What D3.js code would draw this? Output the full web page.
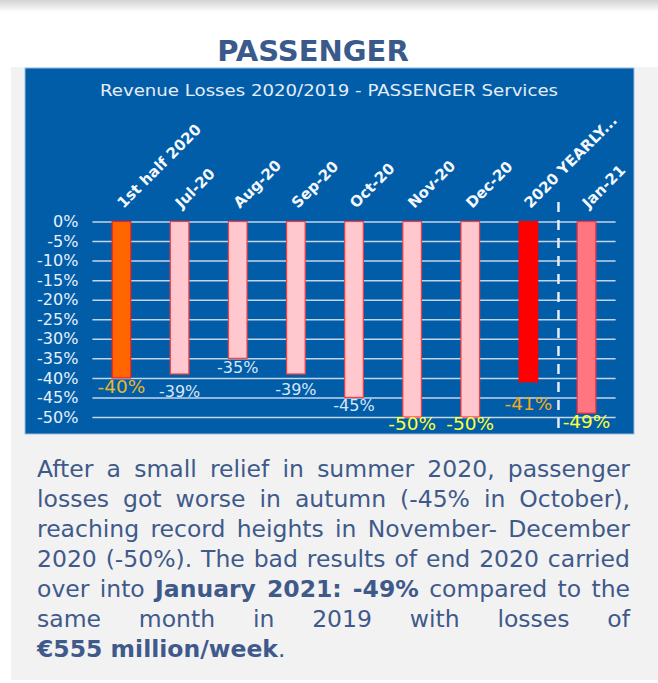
<!DOCTYPE html>
<html>
<head>
<meta charset="utf-8">
<script src="https://cdn.jsdelivr.net/npm/d3@7"></script>
<style>
  body { margin: 0; width: 658px; height: 683px; overflow: hidden; position: relative; background: #fff; font-family: "DejaVu Sans", Verdana, sans-serif; }
  #shadow { position: absolute; left: 0; top: 0; width: 658px; height: 12px; background: linear-gradient(#d2d2d2, rgba(255,255,255,0)); }
  #chart { position: absolute; left: 0; top: 0; }
  #note { position: absolute; left: 37px; top: 454px; width: 593px; font-size: 23.5px; line-height: 30px; color: #3f5a8a; }
  #note div { text-align: justify; text-align-last: justify; }
  #note div.last { text-align-last: left; }
  #note b { font-weight: bold; }
</style>
</head>
<body>
<div id="shadow"></div>
<svg id="chart" width="658" height="683"></svg>
<div id="note">
  <div>After a small relief in summer 2020, passenger</div>
  <div>losses got worse in autumn (-45% in October),</div>
  <div>reaching record heights in November- December</div>
  <div>2020 (-50%). The bad results of end 2020 carried</div>
  <div>over into <b>January 2021: -49%</b> compared to the</div>
  <div>same month in 2019 with losses of</div>
  <div class="last"><b>€555 million/week</b>.</div>
</div>
<script>
// data
const categories = ["1st half 2020", "Jul-20", "Aug-20", "Sep-20", "Oct-20", "Nov-20", "Dec-20", "2020 YEARLY...", "Jan-21"]
const losses = [-40, -39, -35, -39, -45, -50, -50, -41, -49]
const yTicks = [0, -5, -10, -15, -20, -25, -30, -35, -40, -45, -50]

// styling per bar (kept apart from the data)
const barFill = ["#ff6600", "#ffc7ce", "#ffc7ce", "#ffc7ce", "#ffc7ce", "#ffc7ce", "#ffc7ce", "#ff0000", "#ff7580"]
const barStroke = ["#ff1a1a", "#ff3b3b", "#ff3b3b", "#ff3b3b", "#ff3b3b", "#ff3b3b", "#ff3b3b", "#ff0000", "#ff3040"]
const labelColor = ["#e9b826", "#d9e6f5", "#d9e6f5", "#d9e6f5", "#d9e6f5", "#ffff33", "#ffff33", "#f2aa1a", "#ffff33"]
const labelSize = [18.5, 16, 16, 16, 16, 18.5, 18.5, 18.5, 18.5]
const labelGap = [15, 23, 15, 21, 14, 13, 13, 28, 15]

const svg = d3.select("#chart")

// grey page panel and heading
svg.append("rect")
  .attr("x", 11).attr("y", 67)
  .attr("width", 647).attr("height", 613)
  .attr("fill", "#f2f2f2")

svg.append("text")
  .attr("x", 313).attr("y", 61)
  .attr("text-anchor", "middle")
  .attr("font-size", 29)
  .attr("font-weight", "bold")
  .attr("fill", "#3a5a8c")
  .text("PASSENGER")

// blue chart box
svg.append("rect")
  .attr("x", 25).attr("y", 68)
  .attr("width", 609).attr("height", 366)
  .attr("fill", "#025da9")
  .attr("stroke", "#9cbde0")
  .attr("stroke-width", 1)

svg.append("text")
  .attr("x", 329).attr("y", 96)
  .attr("text-anchor", "middle")
  .attr("font-size", 16.5)
  .attr("fill", "#e4edf8")
  .attr("textLength", 458)
  .attr("lengthAdjust", "spacingAndGlyphs")
  .text("Revenue Losses 2020/2019 - PASSENGER Services")

// scales
const x = d3.scaleBand()
  .domain(categories)
  .range([92.4, 615.6])
  .paddingInner(0.68)
  .paddingOuter(0.34)

const y = d3.scaleLinear()
  .domain([0, -50])
  .range([221.5, 417])

const plotW = x.range()[1] - x.range()[0]

// y axis with gridlines
const yAxis = svg.append("g")
  .attr("transform", `translate(${x.range()[0]},0)`)
  .call(d3.axisLeft(y).tickValues(yTicks).tickSize(-plotW).tickPadding(14).tickFormat(d => d + "%"))

yAxis.select(".domain").remove()
yAxis.selectAll("line").attr("stroke", "#c4d5ea").attr("stroke-width", 1.5)
yAxis.selectAll("text")
  .attr("fill", "#e8f0f9")
  .attr("font-size", 16)
  .attr("font-family", "DejaVu Sans, Verdana, sans-serif")

// x axis labels, rotated
const xAxis = svg.append("g")
  .attr("transform", "translate(2,209)")
  .call(d3.axisTop(x).tickSize(0).tickPadding(0))

xAxis.select(".domain").remove()
xAxis.selectAll("text")
  .attr("y", 0)
  .attr("dy", 0)
  .attr("text-anchor", "start")
  .attr("transform", "rotate(-45)")
  .attr("fill", "#f4f8fc")
  .attr("font-size", 15)
  .attr("font-weight", "bold")
  .attr("font-family", "DejaVu Sans, Verdana, sans-serif")

// dashed separator before Jan-21
const sepX = (x("2020 YEARLY...") + x.bandwidth() + x("Jan-21")) / 2 + 1
svg.append("line")
  .attr("x1", sepX).attr("x2", sepX)
  .attr("y1", 202).attr("y2", 432)
  .attr("stroke", "#e4eef8")
  .attr("stroke-width", 2.5)
  .attr("stroke-dasharray", "10,8")

// bars
svg.selectAll(".bar")
  .data(losses)
  .enter()
  .append("rect")
  .attr("class", "bar")
  .attr("x", (d, i) => x(categories[i]))
  .attr("y", y(0))
  .attr("width", x.bandwidth())
  .attr("height", d => y(d) - y(0))
  .attr("fill", (d, i) => barFill[i])
  .attr("stroke", (d, i) => barStroke[i])
  .attr("stroke-width", 1.2)

// value labels
svg.selectAll(".val")
  .data(losses)
  .enter()
  .append("text")
  .attr("class", "val")
  .attr("x", (d, i) => x(categories[i]) + x.bandwidth() / 2)
  .attr("y", (d, i) => y(d) + labelGap[i])
  .attr("text-anchor", "middle")
  .attr("font-size", (d, i) => labelSize[i])
  .attr("fill", (d, i) => labelColor[i])
  .text(d => d + "%")
</script>
</body>
</html>
